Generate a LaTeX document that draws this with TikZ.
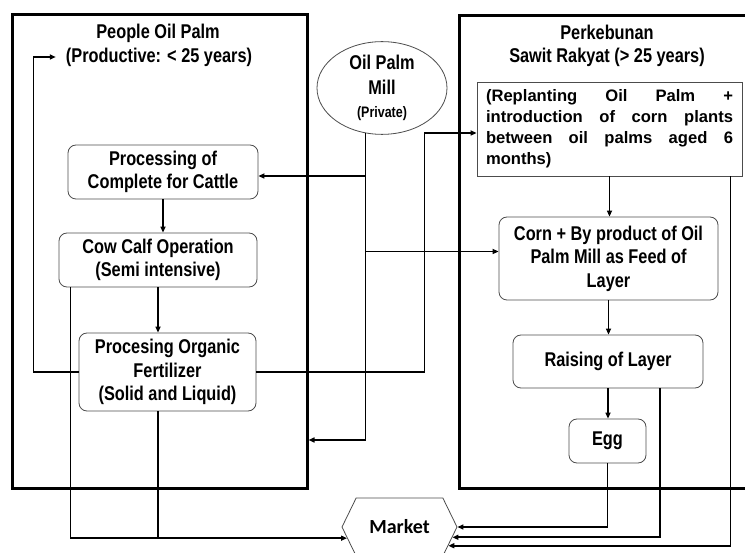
\documentclass[tikz,border=0pt]{standalone}
\usepackage{fontspec}
\setmainfont{Liberation Sans}
\newfontfamily\narrowfont{Liberation Sans}[FakeStretch=0.82]
\newfontfamily\marketfont{Carlito}
\usetikzlibrary{arrows.meta,shapes.geometric,shapes.symbols}
\hyphenpenalty=10000
\exhyphenpenalty=10000
\begin{document}
\begin{tikzpicture}[x=1pt,y=-1pt]
	\tikzstyle{every node}+=[inner sep=0pt, align=center, font=\narrowfont\bfseries\fontsize{19.9}{23.5}\selectfont]
	\tikzstyle{area}=[draw=black, line width=3pt, rectangle]
	\tikzstyle{stage}=[draw=black!70, line width=0.8pt, rounded corners=8pt]
	\tikzstyle{flow}=[line width=1.6pt, -{Triangle[length=6pt,width=5pt]}]
	\tikzstyle{link}=[line width=1.6pt]
	\useasboundingbox (0,0) rectangle (745,553);
	\clip (0,0) rectangle (745,553);
	\node [area, minimum width=295pt, minimum height=473pt] (people) at (159.5,251.5) {};
	\node [area, minimum width=301pt, minimum height=472pt] (kebun) at (609.5,252) {};
	\node (peopletitle) at (158,33) {People Oil Palm};
	\node (peopleage) at (159,57) {(Productive: < 25 years)};
	\node (kebuntitle) at (607,32) {Perkebunan};
	\node (kebunage) at (607,57) {Sawit Rakyat (> 25 years)};
	\node [ellipse, draw=black!70, line width=0.8pt, minimum width=130pt, minimum height=86pt, font=\narrowfont\bfseries\fontsize{19.9}{24.5}\selectfont] (mill) at (382,88) {Oil Palm\\Mill\\[-1pt]{\fontsize{15.2}{18}\selectfont(Private)}};
	\node [stage, minimum width=190pt, minimum height=54pt] (proc) at (163,172) {Processing of\\Complete for Cattle};
	\node [stage, minimum width=198pt, minimum height=54pt] (cow) at (158,260) {Cow Calf Operation\\(Semi intensive)};
	\node [stage, minimum width=177pt, minimum height=78pt] (fert) at (167.5,372) {Procesing Organic\\Fertilizer\\(Solid and Liquid)};
	\node [draw=black!70, line width=0.8pt, minimum width=265pt, minimum height=94pt, text width=247pt, align=justify, font=\bfseries\fontsize{16.6}{21}\selectfont] (replant) at (609.5,129) {(Replanting Oil Palm + introduction of corn plants between oil palms aged 6 months)};
	\node [stage, minimum width=219pt, minimum height=83pt] (corn) at (608.5,258.5) {Corn + By product of Oil\\Palm Mill as Feed of\\Layer};
	\node [stage, minimum width=190pt, minimum height=53pt] (raise) at (608,361.5) {Raising of Layer};
	\node [stage, minimum width=77pt, minimum height=44pt] (egg) at (607.5,441) {Egg};
	\node [signal, signal to=east and west, signal pointer angle=128, draw=black!70, line width=0.8pt, minimum width=115pt, minimum height=58pt, font=\marketfont\bfseries\fontsize{20}{22}\selectfont] (market) at (399.5,527) {Market};
	\coordinate (procin) at ([yshift=-4pt]proc.east);
	\coordinate (cornin) at ([yshift=7pt]corn.west);
	\coordinate (replantin) at ([yshift=-4pt]replant.west);
	\draw [flow] (proc.south) -- (proc.south |- cow.north);
	\draw [flow] (cow.south) -- (cow.south |- fert.north);
	\draw [flow] (replant.south) -- (replant.south |- corn.north);
	\draw [flow] (corn.south) -- (corn.south |- raise.north);
	\draw [flow] (raise.south) -- (raise.south |- egg.north);
	\draw [flow] (fert.west) -- ++(-45,0) |- ([xshift=-10pt]peopleage.west);
	\draw [flow] (mill.-110) |- (people.east |- 0,440);
	\draw [flow] (mill.-110 |- procin) -- (procin);
	\draw [flow] (mill.-110 |- cornin) -- (cornin);
	\draw [flow] (fert.east) -- ++(168,0) |- (replantin);
	\draw [flow] ([xshift=12pt]cow.south west) |- (market.192);
	\draw [link] (cow.south |- fert.south) -- (cow.south |- market.192);
	\draw [flow] (egg.south) |- (market.east);
	\draw [flow] ([xshift=52pt]raise.south) |- (market.-11);
	\draw [flow] ([xshift=-12pt]replant.south east) |- (market.-21);
\end{tikzpicture}
\end{document}
